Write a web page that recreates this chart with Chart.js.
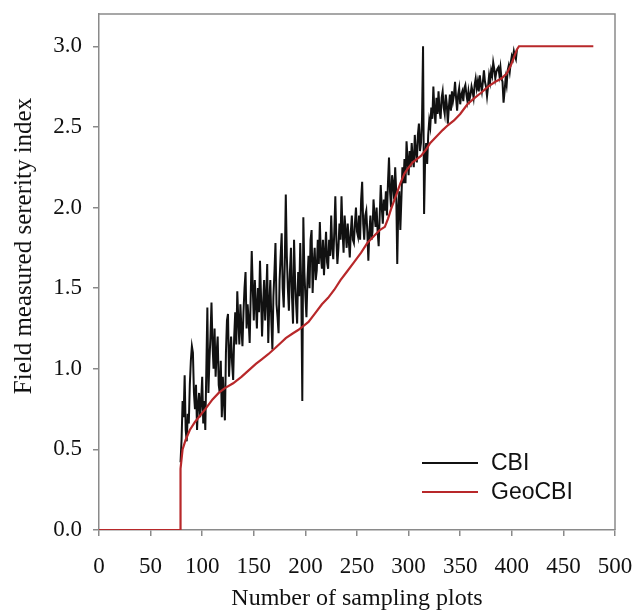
<!DOCTYPE html>
<html lang="en">
<head>
    <meta charset="UTF-8">
    <title>CBI vs GeoCBI</title>
    <script src="https://cdn.jsdelivr.net/npm/chart.js"></script>
    <style>
        body { margin: 0; background: #fff; }
    </style>
</head>
<body>
    <canvas id="myChart" width="634" height="613"></canvas>
    <script>
        // plots are sorted by GeoCBI, burned plots start at plot 79 (one value per plot)
        const cbiFirstPlot = 79;
        const cbiValues = [
            0.42, 0.56, 0.80, 0.70, 0.96, 0.62, 0.55, 0.72, 0.66, 0.90,
            1.05, 1.14, 1.10, 0.85, 0.75, 0.90, 0.62, 0.78, 0.85, 0.70,
            0.80, 0.95, 0.66, 0.80, 0.62, 1.00, 1.38, 0.85, 1.05, 1.20,
            1.41, 1.15, 1.00, 1.25, 0.95, 1.10, 1.20, 0.90, 0.85, 1.05,
            0.70, 0.95, 0.80, 0.68, 1.10, 1.30, 1.34, 0.95, 1.10, 1.20,
            1.03, 0.93, 1.20, 1.35, 1.15, 1.48, 1.30, 1.15, 1.40, 1.25,
            1.14, 1.35, 1.50, 1.60, 1.25, 1.40, 1.30, 1.16, 1.45, 1.73,
            1.50, 1.30, 1.55, 1.40, 1.25, 1.50, 1.35, 1.67, 1.45, 1.20,
            1.40, 1.55, 1.30, 1.45, 1.65, 1.16, 1.40, 1.55, 1.30, 1.12,
            1.45, 1.60, 1.78, 1.40, 1.32, 1.22, 1.55, 1.70, 1.84, 1.50,
            1.38, 1.65, 2.08, 1.70, 1.50, 1.36, 1.60, 1.75, 1.45, 1.28,
            1.80, 1.55, 1.40, 1.28, 1.60, 1.45, 1.78, 1.50, 0.80, 1.94,
            1.60, 1.45, 1.32, 1.55, 1.70, 1.50, 1.80, 1.86, 1.47, 1.65,
            1.75, 1.55, 1.61, 1.80, 1.65, 1.91, 1.70, 1.62, 1.80, 1.58,
            1.72, 1.85, 1.66, 1.62, 1.80, 1.70, 1.95, 1.75, 1.68, 1.85,
            2.07, 1.80, 1.65, 1.75, 1.90, 1.80, 2.07, 1.85, 1.72, 1.95,
            1.85, 1.75, 1.90, 1.80, 1.69, 1.85, 1.95, 1.80, 1.78, 1.90,
            2.00, 1.85, 1.82, 1.95, 1.80, 2.05, 2.16, 1.90, 1.80, 1.95,
            1.98, 1.85, 1.67, 1.85, 1.95, 1.80, 1.85, 2.05, 1.95, 1.88,
            2.00, 1.85, 1.76, 1.95, 2.14, 2.00, 1.90, 2.05, 1.98, 2.10,
            1.95, 2.15, 2.31, 2.10, 2.00, 2.20, 2.15, 2.05, 2.25, 2.10,
            1.65, 2.00, 2.10, 1.86, 2.05, 2.25, 2.15, 2.30, 2.15, 2.41,
            2.30, 2.20, 2.35, 2.25, 2.40, 2.30, 2.25, 2.45, 2.35, 2.28,
            2.45, 2.52, 2.35, 2.40, 2.55, 3.00, 1.96, 2.30, 2.40, 2.27,
            2.45, 2.54, 2.50, 2.62, 2.55, 2.75, 2.60, 2.52, 2.68, 2.58,
            2.72, 2.60, 2.55, 2.68, 2.72, 2.62, 2.58, 2.70, 2.64, 2.52,
            2.62, 2.70, 2.60, 2.72, 2.66, 2.70, 2.78, 2.68, 2.60, 2.70,
            2.74, 2.64, 2.70, 2.72, 2.66, 2.74, 2.76, 2.70, 2.66, 2.72,
            2.67, 2.70, 2.75, 2.72, 2.68, 2.76, 2.80, 2.74, 2.78, 2.72,
            2.82, 2.76, 2.72, 2.78, 2.85, 2.78, 2.75, 2.69, 2.75, 2.82,
            2.78, 2.85, 2.82, 2.90, 2.86, 2.80, 2.84, 2.86, 2.87, 2.82,
            2.87, 2.80, 2.78, 2.65, 2.72, 2.80, 2.76, 2.85, 2.88, 2.84,
            2.90, 2.94, 2.92, 2.97, 2.94, 2.92, 2.98
        ];

        const geoPlots = [0, 79, 79, 81, 84, 88, 93, 98, 103, 110, 116, 122, 130, 138, 145, 152,
            158, 164, 171, 176, 181, 188, 193, 197, 203, 209, 216, 222, 228, 234, 240, 247, 254,
            260, 266, 272, 277, 280, 283, 287, 292, 296, 299, 304, 308, 312, 317, 321, 327,
            333, 338, 344, 350, 357, 364, 370, 377, 384, 390, 395, 399, 402, 405, 407, 479];
        const geoValues = [0, 0, 0.38, 0.50, 0.56, 0.62, 0.67, 0.71, 0.75, 0.81, 0.85, 0.88, 0.91, 0.95, 0.99, 1.03,
            1.06, 1.09, 1.13, 1.16, 1.19, 1.22, 1.24, 1.26, 1.29, 1.34, 1.40, 1.44, 1.49, 1.55, 1.60, 1.66, 1.72,
            1.78, 1.82, 1.86, 1.88, 1.93, 1.99, 2.06, 2.15, 2.21, 2.24, 2.28, 2.30, 2.32, 2.36, 2.40, 2.44,
            2.48, 2.51, 2.54, 2.58, 2.64, 2.68, 2.71, 2.75, 2.78, 2.80, 2.83, 2.88, 2.93, 2.98, 3.00, 3.00];

        const xTickValues = [0, 50, 100, 150, 200, 250, 300, 350, 400, 450, 500];
        const yTickValues = [0, 0.5, 1.0, 1.5, 2.0, 2.5, 3.0];
        const xTitle = 'Number of sampling plots';
        const yTitle = 'Field measured sererity index';

        const cbiPoints = cbiValues.map((v, i) => ({ x: cbiFirstPlot + i, y: v }));
        const geoPoints = geoValues.map((v, i) => ({ x: geoPlots[i], y: v }));

        const axisColor = '#8a8a8a';
        const serif = "'Liberation Serif', 'Times New Roman', serif";

        // top + right frame, y title (sits above plot centre in the original) and legend inside plot
        const frameLegend = {
            id: 'frameLegend',
            afterDraw(chart) {
                const c = chart.ctx, a = chart.chartArea;
                c.save();
                c.strokeStyle = axisColor;
                c.lineWidth = 1.5;
                c.beginPath();
                c.moveTo(a.left, a.top);
                c.lineTo(a.right, a.top);
                c.lineTo(a.right, a.bottom);
                c.stroke();

                c.save();
                c.translate(24, 246);
                c.rotate(-Math.PI / 2);
                c.font = '25px ' + serif;
                c.fillStyle = '#111';
                c.textAlign = 'center';
                c.textBaseline = 'middle';
                c.fillText(yTitle, 0, 0);
                c.restore();

                c.font = "23px 'Liberation Sans', Arial, sans-serif";
                c.textBaseline = 'middle';
                c.textAlign = 'left';
                chart.data.datasets.forEach((ds, i) => {
                    const y = 463 + i * 29;
                    c.strokeStyle = ds.borderColor;
                    c.lineWidth = 2;
                    c.beginPath();
                    c.moveTo(422, y);
                    c.lineTo(478, y);
                    c.stroke();
                    c.fillStyle = '#111';
                    c.fillText(ds.label, 491, y + 1);
                });
                c.restore();
            }
        };

        const ctx = document.querySelector('#myChart');
        const myChart = new Chart(ctx, {
            type: 'line',
            data: {
                datasets: [
                    {
                        label: 'CBI',
                        data: cbiPoints,
                        borderColor: '#111111',
                        borderWidth: 2,
                        pointRadius: 0,
                        tension: 0,
                        order: 2
                    },
                    {
                        label: 'GeoCBI',
                        data: geoPoints,
                        borderColor: '#b8282a',
                        borderWidth: 2.2,
                        pointRadius: 0,
                        tension: 0,
                        order: 1
                    }
                ]
            },
            options: {
                responsive: false,
                animation: false,
                devicePixelRatio: 1,
                layout: { padding: { top: 14, right: 19, left: 0, bottom: 0 } },
                plugins: {
                    legend: { display: false },
                    tooltip: { enabled: false }
                },
                scales: {
                    x: {
                        type: 'linear',
                        min: 0,
                        max: 500,
                        afterFit(s) { s.height = 83; s.paddingLeft = 0; s.paddingRight = 0; },
                        afterBuildTicks(s) { s.ticks = xTickValues.map(v => ({ value: v })); },
                        ticks: {
                            color: '#111',
                            font: { family: serif, size: 23 },
                            padding: 17,
                            maxRotation: 0,
                            autoSkip: false
                        },
                        grid: { drawOnChartArea: false, drawTicks: true, tickLength: 6, color: axisColor, lineWidth: 1.5 },
                        border: { color: axisColor, width: 1.5 },
                        title: {
                            display: true,
                            text: xTitle,
                            color: '#111',
                            font: { family: serif, size: 24 },
                            padding: { top: 0, bottom: 0 }
                        }
                    },
                    y: {
                        type: 'linear',
                        min: 0,
                        max: 3.2,
                        afterFit(s) { s.width = 99; s.paddingTop = 0; s.paddingBottom = 0; },
                        afterBuildTicks(s) { s.ticks = yTickValues.map(v => ({ value: v })); },
                        ticks: {
                            color: '#111',
                            font: { family: serif, size: 23 },
                            padding: 11,
                            callback: v => v.toFixed(1)
                        },
                        grid: { drawOnChartArea: false, drawTicks: true, tickLength: 6, color: axisColor, lineWidth: 1.5 },
                        border: { color: axisColor, width: 1.5 }
                    }
                }
            },
            plugins: [frameLegend]
        });
    </script>
</body>
</html>
